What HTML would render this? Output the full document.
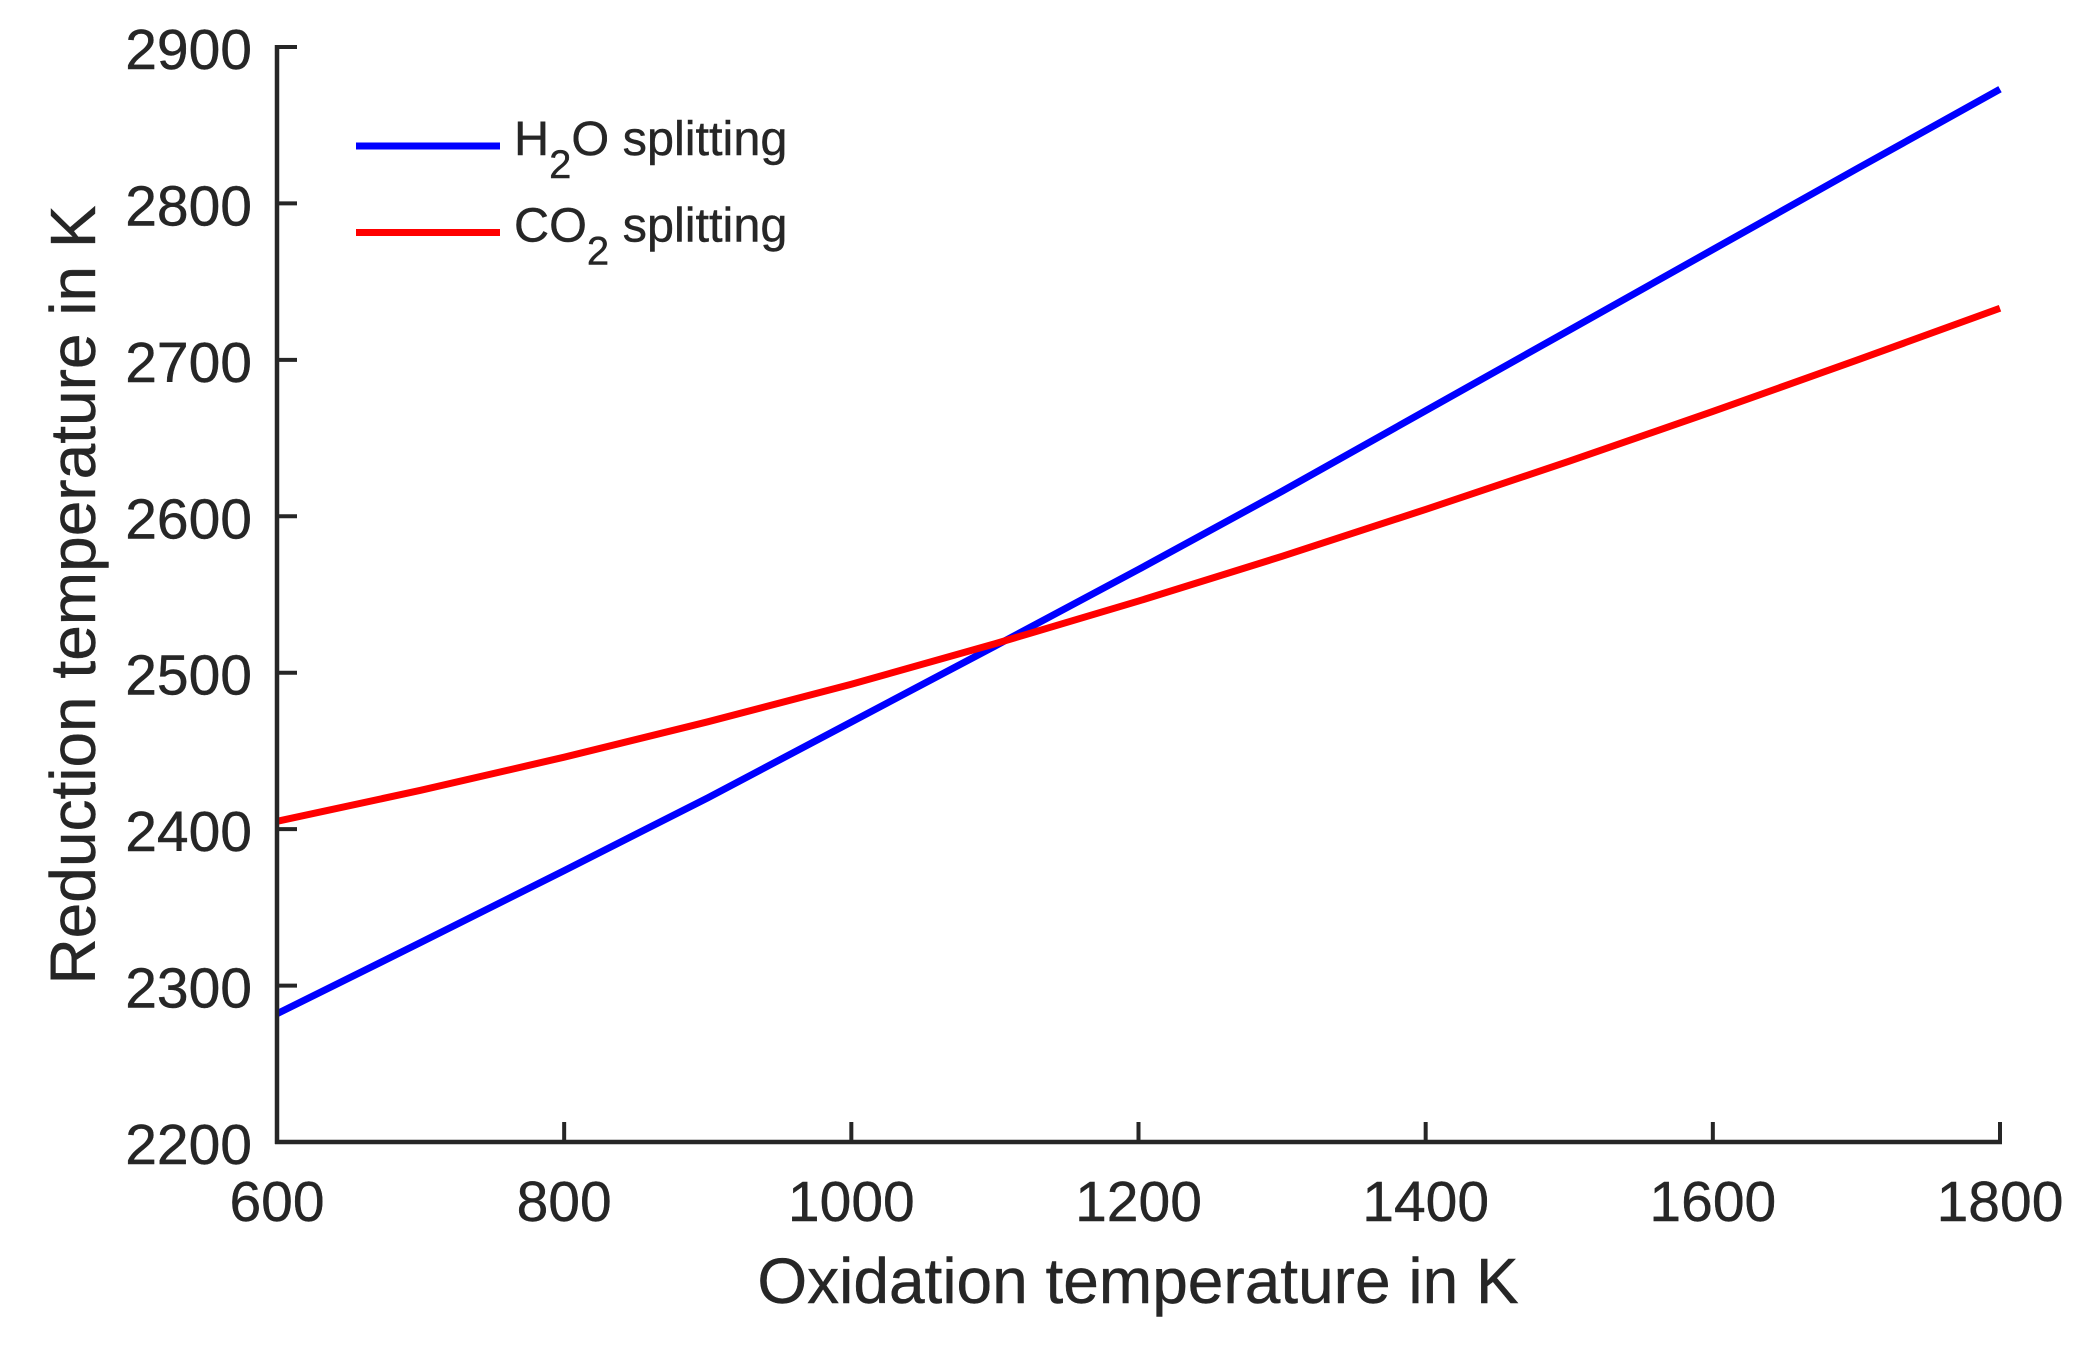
<!DOCTYPE html>
<html lang="en">
<head>
<meta charset="utf-8">
<title>Reduction vs oxidation temperature</title>
<style>
html,body{margin:0;padding:0;background:#fff;}
svg{display:block;}
text{font-family:"Liberation Sans",Arial,sans-serif;fill:#262626;stroke:#262626;stroke-width:0.4px;}
</style>
</head>
<body>
<svg id="chart" xmlns="http://www.w3.org/2000/svg" width="2095" height="1346" viewBox="0 0 2095 1346">
  <g id="series-layer"></g>
  <g id="axes-layer"></g>
  <text x="1138" y="1303" font-size="64" text-anchor="middle">Oxidation temperature in K</text>
  <text transform="translate(95 595) rotate(-90)" font-size="64" text-anchor="middle">Reduction temperature in K</text>
  <g>
    <line x1="356" x2="500" y1="146" y2="146" stroke="#0000ff" stroke-width="7"/>
    <text x="514" y="155" font-size="48.6">H<tspan font-size="40" dy="23">2</tspan><tspan dy="-23">O splitting</tspan></text>
    <line x1="356" x2="500" y1="232.5" y2="232.5" stroke="#ff0000" stroke-width="7"/>
    <text x="514" y="241.5" font-size="48.6">CO<tspan font-size="40" dy="23">2</tspan><tspan dy="-23"> splitting</tspan></text>
  </g>
</svg>
<script>
const xTicks = [600, 800, 1000, 1200, 1400, 1600, 1800];
const yTicks = [2200, 2300, 2400, 2500, 2600, 2700, 2800, 2900];
const h2oX = [600, 700, 800, 900, 1000, 1100, 1200, 1300, 1400, 1500, 1600, 1700, 1800];
const h2oY = [2282, 2327.5, 2373.5, 2420, 2468.5, 2517, 2566, 2616, 2667.5, 2719, 2770.5, 2822, 2873];
const co2X = [600, 700, 800, 900, 1000, 1100, 1200, 1300, 1400, 1500, 1600, 1700, 1800];
const co2Y = [2405, 2424.8, 2446, 2468.6, 2492.6, 2518.5, 2545.8, 2574.4, 2604.4, 2635.2, 2667, 2699.7, 2733];

const NS = 'http://www.w3.org/2000/svg';
const xMin = 600, xMax = 1800, yMin = 2200, yMax = 2900;
const left = 277, right = 2000, top_ = 47, bottom = 1142;
function xScale(v) { return left + (v - xMin) / (xMax - xMin) * (right - left); }
function yScale(v) { return bottom - (v - yMin) / (yMax - yMin) * (bottom - top_); }

const axes = document.getElementById('axes-layer');
const series = document.getElementById('series-layer');
const axisColor = '#262626';

function seriesPoints(xs, ys) {
  return xs.map(function (x, i) { return xScale(x).toFixed(2) + ',' + yScale(ys[i]).toFixed(2); }).join(' ');
}

const h2oLine = document.createElementNS(NS, 'polyline');


h2oLine.setAttribute('points', seriesPoints(h2oX, h2oY));
h2oLine.setAttribute('fill', 'none');
h2oLine.setAttribute('stroke', '#0000ff');
h2oLine.setAttribute('stroke-width', '7');
h2oLine.setAttribute('stroke-linejoin', 'round');
series.appendChild(h2oLine);

const co2Line = document.createElementNS(NS, 'polyline');


co2Line.setAttribute('points', seriesPoints(co2X, co2Y));
co2Line.setAttribute('fill', 'none');
co2Line.setAttribute('stroke', '#ff0000');
co2Line.setAttribute('stroke-width', '7');
co2Line.setAttribute('stroke-linejoin', 'round');
series.appendChild(co2Line);

const xAxisLine = document.createElementNS(NS, 'line');


xAxisLine.setAttribute('x1', left - 2);
xAxisLine.setAttribute('x2', right + 2);
xAxisLine.setAttribute('y1', bottom);
xAxisLine.setAttribute('y2', bottom);
xAxisLine.setAttribute('stroke', axisColor);
xAxisLine.setAttribute('stroke-width', '4.5');
axes.appendChild(xAxisLine);

const yAxisLine = document.createElementNS(NS, 'line');


yAxisLine.setAttribute('x1', left);
yAxisLine.setAttribute('x2', left);
yAxisLine.setAttribute('y1', top_ - 2);
yAxisLine.setAttribute('y2', bottom + 2);
yAxisLine.setAttribute('stroke', axisColor);
yAxisLine.setAttribute('stroke-width', '4.5');
axes.appendChild(yAxisLine);

xTicks.forEach(function (v) {
  const t = document.createElementNS(NS, 'line');
  
  
  t.setAttribute('x1', xScale(v));
  t.setAttribute('x2', xScale(v));
  t.setAttribute('y1', bottom);
  t.setAttribute('y2', bottom - 20);
  t.setAttribute('stroke', axisColor);
  t.setAttribute('stroke-width', '4');
  axes.appendChild(t);
  const l = document.createElementNS(NS, 'text');
  
  
  l.setAttribute('x', xScale(v));
  l.setAttribute('y', 1221);
  l.setAttribute('font-size', '57');
  l.setAttribute('text-anchor', 'middle');
  l.textContent = String(v);
  axes.appendChild(l);
});

yTicks.forEach(function (v) {
  const t = document.createElementNS(NS, 'line');
  
  
  t.setAttribute('x1', left);
  t.setAttribute('x2', left + 20);
  t.setAttribute('y1', yScale(v));
  t.setAttribute('y2', yScale(v));
  t.setAttribute('stroke', axisColor);
  t.setAttribute('stroke-width', '4');
  axes.appendChild(t);
  const l = document.createElementNS(NS, 'text');
  
  
  l.setAttribute('x', 252);
  l.setAttribute('y', yScale(v) + 22);
  l.setAttribute('font-size', '57');
  l.setAttribute('text-anchor', 'end');
  l.textContent = String(v);
  axes.appendChild(l);
});
</script>
</body>
</html>
